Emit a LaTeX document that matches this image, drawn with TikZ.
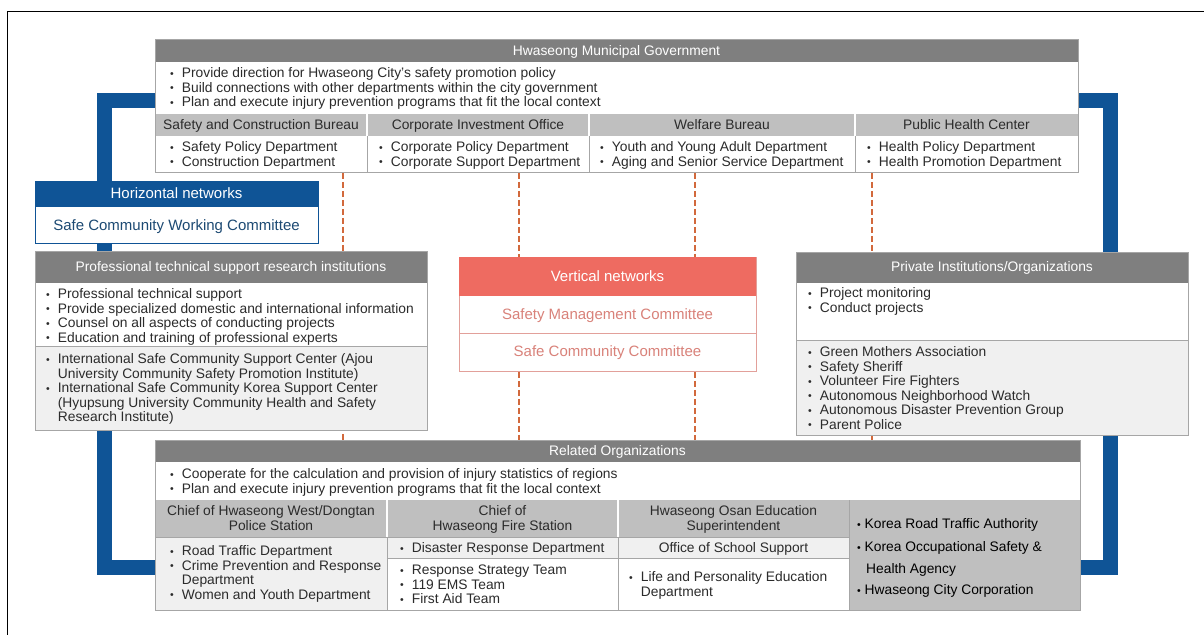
\documentclass[tikz,border=0pt]{standalone}
\usepackage{fontspec}
\setmainfont{Liberation Sans}
\usetikzlibrary{calc}
\pgfdeclarelayer{bg}
\pgfsetlayers{bg,main}
\definecolor{hdr}{HTML}{7F7F7F}
\definecolor{subg}{HTML}{BFBFBF}
\definecolor{pale}{HTML}{F0F0F0}
\definecolor{rulec}{HTML}{A6A6A6}
\definecolor{navy}{HTML}{0F5496}
\definecolor{navytext}{HTML}{1D4A73}
\definecolor{salmon}{HTML}{EE6B61}
\definecolor{rose}{HTML}{D9827A}
\definecolor{roseline}{HTML}{E2A09A}
\definecolor{dashc}{HTML}{D2693C}
\definecolor{ink}{HTML}{2B2B2B}
\newcommand\bul{{\fontsize{10.5}{10.5}\selectfont\raisebox{0.6pt}{•}}}
\newcommand\blist[1]{\begin{tabular}[t]{@{}l@{\hspace{8pt}}l@{}}#1\end{tabular}}
\newcommand\cstack[1]{\begin{tabular}[t]{@{}c@{}}#1\end{tabular}}
\tikzset{
  txtbody/.style={font=\fontsize{13.8}{14.5}\selectfont, text=ink, inner sep=0pt, anchor=base west},
  txtctr/.style={font=\fontsize{13.8}{14.5}\selectfont, text=ink, inner sep=0pt, anchor=base},
  txthead/.style={txtctr, text=white},
  txtbig/.style={font=\fontsize{15}{16}\selectfont, inner sep=0pt, anchor=base},
  boxframe/.style={draw=rulec, fill=white, line width=0.8pt, inner sep=0pt, anchor=north west},
  blueline/.style={draw=navy, line width=15pt, line join=miter},
  dashline/.style={draw=dashc, line width=2.2pt, dash pattern=on 6pt off 3pt},
  rulel/.style={draw=rulec, line width=0.8pt},
  whitel/.style={draw=white, line width=1.2pt}
}
\begin{document}
\begin{tikzpicture}[x=1pt,y=-1pt]
\useasboundingbox (0,0) rectangle (1204,635);
\draw[black, line width=1pt] (1204,11) -- (7,11) -- (7,635);

% ---------- Hwaseong Municipal Government ----------
\node[boxframe, minimum width=923, minimum height=133] (gov) at (155,39) {};
\fill[hdr] (155,39) rectangle (1078,62);
\fill[subg] (155,114) rectangle (1078,136);
\draw[whitel] (367,114) -- (367,136) (589,114) -- (589,136) (855,114) -- (855,136);
\draw[rulel] (367,136) -- (367,172) (589,136) -- (589,172) (855,136) -- (855,172);
\node[txthead] (govT) at (616.5,55) {Hwaseong Municipal Government};
\node[txtbody] (govB) at (170,77.8) {\blist{\bul & Provide direction for Hwaseong City's safety promotion policy\\
 \bul & Build connections with other departments within the city government\\
 \bul & Plan and execute injury prevention programs that fit the local context}};
\node[txtctr] (s1) at (261,129.8) {Safety and Construction Bureau};
\node[txtctr] (s2) at (478,129.8) {Corporate Investment Office};
\node[txtctr] (s3) at (722,129.8) {Welfare Bureau};
\node[txtctr] (s4) at (966.5,129.8) {Public Health Center};
\node[txtbody] (l1) at (170,151.8) {\blist{\bul & Safety Policy Department\\ \bul & Construction Department}};
\node[txtbody] (l2) at (379,151.8) {\blist{\bul & Corporate Policy Department\\ \bul & Corporate Support Department}};
\node[txtbody] (l3) at (600,151.8) {\blist{\bul & Youth and Young Adult Department\\ \bul & Aging and Senior Service Department}};
\node[txtbody] (l4) at (867,151.8) {\blist{\bul & Health Policy Department\\ \bul & Health Promotion Department}};
\draw[rulel] (155,39) rectangle (1078,172);

% ---------- Horizontal networks ----------
\node[boxframe, draw=navy, minimum width=283, minimum height=62] (hnet) at (35,181) {};
\fill[navy] (35,181) rectangle (318,207);
\node[txtbig, text=white] (hnetT) at (176.5,198.5) {Horizontal networks};
\node[txtbig, text=navytext] (hnetC) at (176.5,230.3) {Safe Community Working Committee};

% ---------- Professional technical support ----------
\node[boxframe, minimum width=392, minimum height=179] (prof) at (35,251) {};
\fill[hdr] (35,251) rectangle (427,283);
\fill[pale] (35,346) rectangle (427,430);
\draw[rulel] (35,346) -- (427,346);
\node[txthead] (profT) at (231,271.8) {Professional technical support research institutions};
\node[txtbody] (profA) at (46,298.8) {\blist{\bul & Professional technical support\\
 \bul & Provide specialized domestic and international information\\
 \bul & Counsel on all aspects of conducting projects\\
 \bul & Education and training of professional experts}};
\node[txtbody] (profB) at (46,363.8) {\blist{\bul & International Safe Community Support Center (Ajou\\
 & University Community Safety Promotion Institute)\\
 \bul & International Safe Community Korea Support Center\\
 & (Hyupsung University Community Health and Safety\\
 & Research Institute)}};
\draw[rulel] (35,251) rectangle (427,430);

% ---------- Vertical networks ----------
\node[boxframe, draw=roseline, minimum width=297, minimum height=114] (vnet) at (459,257) {};
\fill[salmon] (459,257) rectangle (756,296);
\draw[draw=roseline, line width=0.8pt] (459,333) -- (756,333);
\node[txtbig, text=white] (vnetT) at (607.5,281.3) {Vertical networks};
\node[txtbig, text=rose] (vnet1) at (607.5,319.3) {Safety Management Committee};
\node[txtbig, text=rose] (vnet2) at (607.5,356.3) {Safe Community Committee};

% ---------- Private Institutions ----------
\node[boxframe, minimum width=392, minimum height=183] (priv) at (796,252) {};
\fill[hdr] (796,252) rectangle (1188,283);
\fill[pale] (796,340) rectangle (1188,435);
\draw[rulel] (796,340) -- (1188,340);
\node[txthead] (privT) at (992,271.8) {Private Institutions/Organizations};
\node[txtbody] (privA) at (808,297.8) {\blist{\bul & Project monitoring\\ \bul & Conduct projects}};
\node[txtbody] (privB) at (808,356.8) {\blist{\bul & Green Mothers Association\\
 \bul & Safety Sheriff\\
 \bul & Volunteer Fire Fighters\\
 \bul & Autonomous Neighborhood Watch\\
 \bul & Autonomous Disaster Prevention Group\\
 \bul & Parent Police}};
\draw[rulel] (796,252) rectangle (1188,435);

% ---------- Related Organizations ----------
\node[boxframe, minimum width=925, minimum height=170] (rel) at (155,440) {};
\fill[hdr] (155,440) rectangle (1080,462);
\fill[subg] (155,500) rectangle (1080,537);
\fill[pale] (155,537) rectangle (387,610);
\fill[pale] (387,537) rectangle (849,558);
\fill[subg] (849,500) rectangle (1080,610);
\draw[whitel] (387,500) -- (387,537) (618,500) -- (618,537);
\draw[rulel] (387,537) -- (387,610) (618,537) -- (618,610) (849,500) -- (849,610);
\draw[rulel] (155,537) -- (849,537) (387,558) -- (849,558);
\node[txthead] (relT) at (617.5,455.8) {Related Organizations};
\node[txtbody] (relB) at (170,478.8) {\blist{\bul & Cooperate for the calculation and provision of injury statistics of regions\\
 \bul & Plan and execute injury prevention programs that fit the local context}};
\node[txtctr] (polH) at (271,515.8) {\cstack{Chief of Hwaseong West/Dongtan\\ Police Station}};
\node[txtctr] (fireH) at (502.5,515.8) {\cstack{Chief of\\ Hwaseong Fire Station}};
\node[txtctr] (eduH) at (733.5,515.8) {\cstack{Hwaseong Osan Education\\ Superintendent}};
\node[txtbody] (polL) at (170,555.8) {\blist{\bul & Road Traffic Department\\
 \bul & Crime Prevention and Response\\
 & Department\\
 \bul & Women and Youth Department}};
\node[txtbody] (fireA) at (400,552.8) {\blist{\bul & Disaster Response Department}};
\node[txtbody] (fireB) at (400,574.8) {\blist{\bul & Response Strategy Team\\ \bul & 119 EMS Team\\ \bul & First Aid Team}};
\node[txtctr] (eduA) at (733.5,552.8) {Office of School Support};
\node[txtbody] (eduB) at (629,581.8) {\blist{\bul & Life and Personality Education\\ & Department}};
\node[txtbody, text=black] (rc1) at (857,528.8) {\bul\ Korea Road Traffic Authority};
\node[txtbody, text=black] (rc2) at (857,551.8) {\bul\ Korea Occupational Safety \&};
\node[txtbody, text=black] (rc3) at (866,573.8) {Health Agency};
\node[txtbody, text=black] (rc4) at (857,594.8) {\bul\ Hwaseong City Corporation};
\draw[rulel] (155,440) rectangle (1080,610);

% ---------- connectors ----------
\coordinate (bl1) at (104,100);
\coordinate (bl2) at (104,567);
\coordinate (br1) at (1110,100);
\coordinate (br2) at (1110,567);
\coordinate (d1) at (343,0);
\coordinate (d2) at (519,0);
\coordinate (d3) at (695,0);
\coordinate (d4) at (872,0);
\begin{pgfonlayer}{bg}
\draw[blueline] (gov.west |- bl1) -- (bl1) -- (bl2) -- (rel.west |- bl2);
\draw[blueline] (gov.east |- br1) -- (br1) -- (br2) -- (rel.east |- br2);
\draw[dashline] (gov.south -| d1) -- (rel.north -| d1);
\draw[dashline] (gov.south -| d2) -- (vnet.north -| d2);
\draw[dashline] (vnet.south -| d2) -- (rel.north -| d2);
\draw[dashline] (gov.south -| d3) -- (vnet.north -| d3);
\draw[dashline] (vnet.south -| d3) -- (rel.north -| d3);
\draw[dashline] (gov.south -| d4) -- (rel.north -| d4);
\end{pgfonlayer}
\end{tikzpicture}
\end{document}
